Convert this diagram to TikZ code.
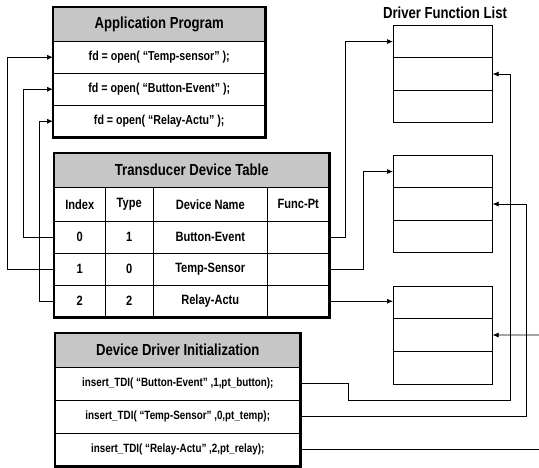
\documentclass[tikz,border=0pt]{standalone}
\usepackage{fontspec}
\setmainfont{Liberation Sans}[FakeStretch=0.82]
\usepackage{tikz}
\usetikzlibrary{arrows.meta}
\tikzstyle{conn} = [line width=0.7pt,->,>={Latex[length=6pt,width=5pt]}]
\tikzstyle{cell} = [draw,line width=0.5pt,anchor=north west,inner sep=0pt,minimum height=32pt,font=\bfseries\fontsize{13.5}{15}\selectfont]
\tikzstyle{hdr} = [cell,fill=gray!45,minimum height=34pt,font=\bfseries\fontsize{16}{18}\selectfont]
\tikzstyle{slot} = [draw,line width=0.6pt,anchor=north west,inner sep=0pt,minimum width=99pt,minimum height=32.5pt]
\tikzstyle{frame} = [line width=2.2pt]

\begin{document}
\begin{tikzpicture}[x=1pt,y=-1pt]
		\useasboundingbox (0,0) rectangle (539,468);
		% programa de aplicacion
		\node[hdr,minimum width=212pt] (apph) at (53,7) {Application Program};
		\foreach \Yc/\Texto [count=\i] in 
		{41/{fd = open( “Temp-sensor” );},73/{fd = open( “Button-Event” );},105/{fd = open( “Relay-Actu” );}}
		{
			\node[cell,minimum width=212pt,font=\bfseries\fontsize{13}{15}\selectfont] (app\i) at (53,\Yc) {\Texto};
		}
		\draw[frame] (apph.north west) rectangle (app3.south east);
		% tabla de dispositivos
		\node[hdr,minimum width=275pt] (tdt) at (54,153) {Transducer Device Table};
		\foreach \Xc/\Wc/\Texto [count=\j] in 
		{54/51/Index,105/48/Type,153/114/Device Name,267/62/Func-Pt}
		{
			\node[cell,minimum width=\Wc pt,minimum height=34pt] (t0\j) at (\Xc,187) {\Texto};
		}
		\foreach \Yc/\Ix/\Ty/\Nm [count=\i] in 
		{221/0/1/Button-Event,253/1/0/Temp-Sensor,285/2/2/Relay-Actu}
		{
			\node[cell,minimum width=51pt] (t\i1) at (54,\Yc) {\Ix};
			\node[cell,minimum width=48pt] (t\i2) at (105,\Yc) {\Ty};
			\node[cell,minimum width=114pt] (t\i3) at (153,\Yc) {\Nm};
			\node[cell,minimum width=62pt] (t\i4) at (267,\Yc) {};
		}
		\draw[frame] (tdt.north west) rectangle (t34.south east);
		% inicializacion de drivers
		\node[hdr,minimum width=245pt] (ini) at (55,333) {Device Driver Initialization};
		\foreach \Yc/\Texto [count=\i] in 
		{367/{insert\_TDI( “Button-Event” ,1,pt\_button);},400/{insert\_TDI( “Temp-Sensor” ,0,pt\_temp);},433/{insert\_TDI( “Relay-Actu” ,2,pt\_relay);}}
		{
			\node[cell,minimum width=245pt,minimum height=33pt,font=\bfseries\fontsize{12}{14}\selectfont] (ini\i) at (55,\Yc) {\Texto};
		}
		\draw[frame] (ini.north west) rectangle (ini3.south east);
		% lista de funciones
		\node[font=\bfseries\fontsize{16}{18}\selectfont] (dfl) at (445,13) {Driver Function List};
		\foreach \Yc [count=\k] in {25,155,286}
		{
			\foreach \r in {1,2,3}
			{
				\node[slot] (d\k\r) at (393,{\Yc+(\r-1)*32.5}) {};
			}
		}
		% enlaces
		\draw[conn] (t21.west) -- ++(-47,0) |- (app1.west);
		\draw[conn] (t11.west) -- ++(-31,0) |- (app2.west);
		\draw[conn] (t31.west) -- ++(-15,0) |- (app3.west);
		\draw[conn] (t14.east) -- ++(16,0) |- (d11.west);
		\draw[conn] (t24.east) -- ++(34,0) |- (d21.west);
		\draw[conn] (t34.east) -- (t34.east -| d31.west);
		\draw[conn] (ini1.east) -- ++(48,0) -- ++(0,17) -- ++(162,0) |- (d12.east);
		\draw[conn] (ini2.east) -- ++(226,0) |- (d22.east);
		\coordinate (rout) at (539,449);
		\coordinate (rin) at (539,335);
		\draw[line width=0.7pt] (ini3.east) -- (ini3.east -| rout);
		\draw[conn] (rin) -- (d32.east);
\end{tikzpicture}
\end{document}
